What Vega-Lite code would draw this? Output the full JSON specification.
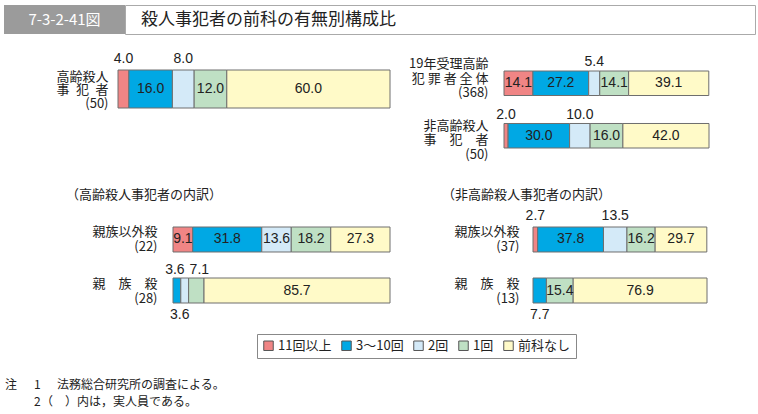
{
  "$schema": "https://vega.github.io/schema/vega-lite/v6.json",
  "padding": {"left": 0, "top": 4, "right": 0, "bottom": 0},
  "background": "white",
  "spacing": 0,
  "config": {
    "font": "Noto Sans CJK JP",
    "view": {"stroke": null},
    "axis": {"grid": false}
  },
  "datasets": {
    "d": [
      {"p": "A", "g": "高齢殺人|事\u2002犯\u2002者|(50)", "c": "11回以上", "k": 1, "v": 4.0},
      {"p": "A", "g": "高齢殺人|事\u2002犯\u2002者|(50)", "c": "3～10回", "k": 2, "v": 16.0},
      {"p": "A", "g": "高齢殺人|事\u2002犯\u2002者|(50)", "c": "2回", "k": 3, "v": 8.0},
      {"p": "A", "g": "高齢殺人|事\u2002犯\u2002者|(50)", "c": "1回", "k": 4, "v": 12.0},
      {"p": "A", "g": "高齢殺人|事\u2002犯\u2002者|(50)", "c": "前科なし", "k": 5, "v": 60.0},
      {"p": "B", "g": "19年受理高齢|犯 罪 者 全 体|(368)", "c": "11回以上", "k": 1, "v": 14.1},
      {"p": "B", "g": "19年受理高齢|犯 罪 者 全 体|(368)", "c": "3～10回", "k": 2, "v": 27.2},
      {"p": "B", "g": "19年受理高齢|犯 罪 者 全 体|(368)", "c": "2回", "k": 3, "v": 5.4},
      {"p": "B", "g": "19年受理高齢|犯 罪 者 全 体|(368)", "c": "1回", "k": 4, "v": 14.1},
      {"p": "B", "g": "19年受理高齢|犯 罪 者 全 体|(368)", "c": "前科なし", "k": 5, "v": 39.1},
      {"p": "B", "g": "非高齢殺人|事　犯　者|(50)", "c": "11回以上", "k": 1, "v": 2.0},
      {"p": "B", "g": "非高齢殺人|事　犯　者|(50)", "c": "3～10回", "k": 2, "v": 30.0},
      {"p": "B", "g": "非高齢殺人|事　犯　者|(50)", "c": "2回", "k": 3, "v": 10.0},
      {"p": "B", "g": "非高齢殺人|事　犯　者|(50)", "c": "1回", "k": 4, "v": 16.0},
      {"p": "B", "g": "非高齢殺人|事　犯　者|(50)", "c": "前科なし", "k": 5, "v": 42.0},
      {"p": "C", "g": "親族以外殺|(22)", "c": "11回以上", "k": 1, "v": 9.1},
      {"p": "C", "g": "親族以外殺|(22)", "c": "3～10回", "k": 2, "v": 31.8},
      {"p": "C", "g": "親族以外殺|(22)", "c": "2回", "k": 3, "v": 13.6},
      {"p": "C", "g": "親族以外殺|(22)", "c": "1回", "k": 4, "v": 18.2},
      {"p": "C", "g": "親族以外殺|(22)", "c": "前科なし", "k": 5, "v": 27.3},
      {"p": "C", "g": "親　族　殺|(28)", "c": "3～10回", "k": 2, "v": 3.6},
      {"p": "C", "g": "親　族　殺|(28)", "c": "2回", "k": 3, "v": 3.6},
      {"p": "C", "g": "親　族　殺|(28)", "c": "1回", "k": 4, "v": 7.1},
      {"p": "C", "g": "親　族　殺|(28)", "c": "前科なし", "k": 5, "v": 85.7},
      {"p": "D", "g": "親族以外殺|(37)", "c": "11回以上", "k": 1, "v": 2.7},
      {"p": "D", "g": "親族以外殺|(37)", "c": "3～10回", "k": 2, "v": 37.8},
      {"p": "D", "g": "親族以外殺|(37)", "c": "2回", "k": 3, "v": 13.5},
      {"p": "D", "g": "親族以外殺|(37)", "c": "1回", "k": 4, "v": 16.2},
      {"p": "D", "g": "親族以外殺|(37)", "c": "前科なし", "k": 5, "v": 29.7},
      {"p": "D", "g": "親　族　殺|(13)", "c": "3～10回", "k": 2, "v": 7.7},
      {"p": "D", "g": "親　族　殺|(13)", "c": "1回", "k": 4, "v": 15.4},
      {"p": "D", "g": "親　族　殺|(13)", "c": "前科なし", "k": 5, "v": 76.9}
    ],
    "notes": [
      {"line": 1, "col": 0, "s": "注"},
      {"line": 1, "col": 1, "s": "1"},
      {"line": 1, "col": 3, "s": "法務総合研究所の調査による。"},
      {"line": 2, "col": 1, "s": "2"},
      {"line": 2, "col": 2, "s": "（　）内は，実人員である。"}
    ]
  },
  "vconcat": [
    {
      "bounds": "flush",
      "spacing": 0,
      "hconcat": [
        {"width": 4, "height": 29, "data": {"values": [{}]}, "mark": "text", "encoding": {"text": {"value": ""}}},
        {"width": 121, "height": 29, "view": {"fill": "#9b9b9b", "stroke": null},
         "data": {"values": [{}]},
         "mark": {"type": "text", "color": "white", "fontSize": 15, "baseline": "middle", "font": "Noto Sans CJK JP"},
         "encoding": {"text": {"value": "7-3-2-41図"}}},
        {"width": 630, "height": 29, "view": {"fill": "white", "stroke": "#aaaaaa"},
         "data": {"values": [{}]},
         "mark": {"type": "text", "align": "left", "baseline": "middle", "dx": -299, "fontSize": 17, "color": "#222", "font": "Noto Sans CJK JP"},
         "encoding": {"text": {"value": "殺人事犯者の前科の有無別構成比"}}}
      ]
    },
    {
      "bounds": "flush",
      "spacing": 0,
      "hconcat": [
        {
          "width": 400, "height": 127,
          "data": {"name": "d"},
          "transform": [{"filter": "datum.p=='A'"}],
          "encoding": {"y": {"field": "g", "type": "nominal", "sort": null,
            "scale": {"range": [35, 73], "paddingInner": 0, "paddingOuter": 0},
            "axis": {"title": null, "domain": false, "ticks": false, "tickSize": 0, "labelPadding": 0, "offset": -108, "labelOffset": -12.5, "labelExpr": "split(datum.label,'|')", "labelFontSize": 13, "labelLineHeight": 13.5, "labelColor": "#222", "labelBaseline": "middle", "labelFont": "Noto Sans CJK JP"}}},
          "layer": [
            {"mark": {"type": "bar", "stroke": "#6e6e6e", "strokeWidth": 1},
             "encoding": {
               "x": {"field": "v", "type": "quantitative", "stack": "zero", "scale": {"domain": [0, 100], "range": [118, 390]}, "axis": null},
               "color": {"field": "c", "type": "nominal", "scale": {"domain": ["11回以上", "3～10回", "2回", "1回", "前科なし"], "range": ["#f08585", "#00a8e4", "#d4eaf8", "#bfe0c4", "#fffac8"]},
                 "legend": {"title": null, "orient": "none", "legendX": 257, "legendY": 329, "direction": "horizontal", "columns": 5, "symbolType": "square", "symbolSize": 90, "symbolStrokeColor": "#555", "symbolStrokeWidth": 1, "labelFontSize": 13, "labelFont": "Noto Sans CJK JP", "labelColor": "#222", "labelOffset": 3, "columnPadding": 7, "padding": 5, "strokeColor": "#888", "fillColor": "white"}},
               "order": {"field": "k", "type": "quantitative"}}},
            {"mark": {"type": "text", "font": "Liberation Sans", "fontSize": 14, "color": "#222", "baseline": "middle"},
             "encoding": {
               "x": {"field": "v", "type": "quantitative", "stack": "zero", "bandPosition": 0.5},
               "detail": {"field": "c"}, "order": {"field": "k", "type": "quantitative"},
               "text": {"condition": {"test": "!(datum.c=='11回以上' || datum.c=='2回')", "field": "v", "type": "quantitative", "format": ".1f"}, "value": ""}}},
            {"mark": {"type": "text", "font": "Liberation Sans", "fontSize": 14, "color": "#222", "baseline": "middle", "dy": -30},
             "encoding": {
               "x": {"field": "v", "type": "quantitative", "stack": "zero", "bandPosition": 0.5},
               "detail": {"field": "c"}, "order": {"field": "k", "type": "quantitative"},
               "text": {"condition": {"test": "datum.c=='11回以上' || datum.c=='2回'", "field": "v", "type": "quantitative", "format": ".1f"}, "value": ""}}}
          ]
        },
        {
          "width": 358, "height": 127,
          "data": {"name": "d"},
          "transform": [{"filter": "datum.p=='B'"}],
          "encoding": {"y": {"field": "g", "type": "nominal", "sort": null,
            "scale": {"range": [36, 113], "paddingInner": 0.533, "paddingOuter": 0},
            "axis": {"title": null, "domain": false, "ticks": false, "tickSize": 0, "labelPadding": 0, "offset": -88,
              "labelOffset": {"condition": {"test": "indexof(datum.value,'非')==0", "value": -10}, "value": -19},
              "labelExpr": "split(datum.label,'|')", "labelFontSize": 13, "labelLineHeight": 14.5, "labelColor": "#222", "labelBaseline": "middle", "labelFont": "Noto Sans CJK JP"}}},
          "layer": [
            {"mark": {"type": "bar", "stroke": "#6e6e6e", "strokeWidth": 1},
             "encoding": {
               "x": {"field": "v", "type": "quantitative", "stack": "zero", "scale": {"domain": [0, 100], "range": [104, 309]}, "axis": null},
               "color": {"field": "c", "type": "nominal", "scale": {"domain": ["11回以上", "3～10回", "2回", "1回", "前科なし"], "range": ["#f08585", "#00a8e4", "#d4eaf8", "#bfe0c4", "#fffac8"]},
                 "legend": {"title": null, "orient": "none", "legendX": 257, "legendY": 329, "direction": "horizontal", "columns": 5, "symbolType": "square", "symbolSize": 90, "symbolStrokeColor": "#555", "symbolStrokeWidth": 1, "labelFontSize": 13, "labelFont": "Noto Sans CJK JP", "labelColor": "#222", "labelOffset": 3, "columnPadding": 7, "padding": 5, "strokeColor": "#888", "fillColor": "white"}},
               "order": {"field": "k", "type": "quantitative"}}},
            {"mark": {"type": "text", "font": "Liberation Sans", "fontSize": 14, "color": "#222", "baseline": "middle"},
             "encoding": {
               "x": {"field": "v", "type": "quantitative", "stack": "zero", "bandPosition": 0.5},
               "detail": {"field": "c"}, "order": {"field": "k", "type": "quantitative"},
               "text": {"condition": {"test": "!(datum.c=='2回' || (datum.c=='11回以上' && indexof(datum.g,'非')==0))", "field": "v", "type": "quantitative", "format": ".1f"}, "value": ""}}},
            {"mark": {"type": "text", "font": "Liberation Sans", "fontSize": 14, "color": "#222", "baseline": "middle", "dy": -21},
             "encoding": {
               "x": {"field": "v", "type": "quantitative", "stack": "zero", "bandPosition": 0.5},
               "detail": {"field": "c"}, "order": {"field": "k", "type": "quantitative"},
               "text": {"condition": {"test": "datum.c=='2回' || (datum.c=='11回以上' && indexof(datum.g,'非')==0)", "field": "v", "type": "quantitative", "format": ".1f"}, "value": ""}}}
          ]
        }
      ]
    },
    {
      "bounds": "flush",
      "spacing": 0,
      "hconcat": [
        {
          "width": 400, "height": 162,
          "data": {"name": "d"},
          "transform": [{"filter": "datum.p=='C'"}],
          "encoding": {"y": {"field": "g", "type": "nominal", "sort": null,
            "scale": {"range": [65, 141], "paddingInner": 0.51, "paddingOuter": 0},
            "axis": {"title": null, "domain": false, "ticks": false, "tickSize": 0, "labelPadding": 0, "offset": -157, "labelOffset": -7, "labelExpr": "split(datum.label,'|')", "labelFontSize": 13, "labelLineHeight": 15, "labelColor": "#222", "labelBaseline": "middle", "labelFont": "Noto Sans CJK JP"}}},
          "layer": [
            {"data": {"values": [{"t": "（高齢殺人事犯者の内訳）"}]},
             "mark": {"type": "text", "align": "left", "baseline": "middle", "fontSize": 13, "color": "#222", "font": "Noto Sans CJK JP", "dx": -134, "dy": -48},
             "encoding": {"y": null, "text": {"field": "t"}}},
            {"mark": {"type": "bar", "stroke": "#6e6e6e", "strokeWidth": 1},
             "encoding": {
               "x": {"field": "v", "type": "quantitative", "stack": "zero", "scale": {"domain": [0, 100], "range": [173, 390]}, "axis": null},
               "color": {"field": "c", "type": "nominal", "scale": {"domain": ["11回以上", "3～10回", "2回", "1回", "前科なし"], "range": ["#f08585", "#00a8e4", "#d4eaf8", "#bfe0c4", "#fffac8"]},
                 "legend": {"title": null, "orient": "none", "legendX": 257, "legendY": 329, "direction": "horizontal", "columns": 5, "symbolType": "square", "symbolSize": 90, "symbolStrokeColor": "#555", "symbolStrokeWidth": 1, "labelFontSize": 13, "labelFont": "Noto Sans CJK JP", "labelColor": "#222", "labelOffset": 3, "columnPadding": 7, "padding": 5, "strokeColor": "#888", "fillColor": "white"}},
               "order": {"field": "k", "type": "quantitative"}}},
            {"mark": {"type": "text", "font": "Liberation Sans", "fontSize": 14, "color": "#222", "baseline": "middle"},
             "encoding": {
               "x": {"field": "v", "type": "quantitative", "stack": "zero", "bandPosition": 0.5},
               "detail": {"field": "c"}, "order": {"field": "k", "type": "quantitative"},
               "text": {"condition": {"test": "indexof(datum.g,'親　族')!=0 || datum.c=='前科なし'", "field": "v", "type": "quantitative", "format": ".1f"}, "value": ""}}},
            {"mark": {"type": "text", "font": "Liberation Sans", "fontSize": 14, "color": "#222", "baseline": "middle", "dy": -21, "dx": -2},
             "encoding": {
               "x": {"field": "v", "type": "quantitative", "stack": "zero", "bandPosition": 0.5},
               "detail": {"field": "c"}, "order": {"field": "k", "type": "quantitative"},
               "text": {"condition": {"test": "indexof(datum.g,'親　族')==0 && datum.c=='3～10回'", "field": "v", "type": "quantitative", "format": ".1f"}, "value": ""}}},
            {"mark": {"type": "text", "font": "Liberation Sans", "fontSize": 14, "color": "#222", "baseline": "middle", "dy": -21, "dx": 3},
             "encoding": {
               "x": {"field": "v", "type": "quantitative", "stack": "zero", "bandPosition": 0.5},
               "detail": {"field": "c"}, "order": {"field": "k", "type": "quantitative"},
               "text": {"condition": {"test": "indexof(datum.g,'親　族')==0 && datum.c=='1回'", "field": "v", "type": "quantitative", "format": ".1f"}, "value": ""}}},
            {"mark": {"type": "text", "font": "Liberation Sans", "fontSize": 14, "color": "#222", "baseline": "middle", "dy": 24, "dx": -5},
             "encoding": {
               "x": {"field": "v", "type": "quantitative", "stack": "zero", "bandPosition": 0.5},
               "detail": {"field": "c"}, "order": {"field": "k", "type": "quantitative"},
               "text": {"condition": {"test": "indexof(datum.g,'親　族')==0 && datum.c=='2回'", "field": "v", "type": "quantitative", "format": ".1f"}, "value": ""}}}
          ]
        },
        {
          "width": 358, "height": 162,
          "data": {"name": "d"},
          "transform": [{"filter": "datum.p=='D'"}],
          "encoding": {"y": {"field": "g", "type": "nominal", "sort": null,
            "scale": {"range": [65, 141], "paddingInner": 0.51, "paddingOuter": 0},
            "axis": {"title": null, "domain": false, "ticks": false, "tickSize": 0, "labelPadding": 0, "offset": -119, "labelOffset": -7, "labelExpr": "split(datum.label,'|')", "labelFontSize": 13, "labelLineHeight": 15, "labelColor": "#222", "labelBaseline": "middle", "labelFont": "Noto Sans CJK JP"}}},
          "layer": [
            {"data": {"values": [{"t": "（非高齢殺人事犯者の内訳）"}]},
             "mark": {"type": "text", "align": "left", "baseline": "middle", "fontSize": 13, "color": "#222", "font": "Noto Sans CJK JP", "dx": -137, "dy": -48},
             "encoding": {"y": null, "text": {"field": "t"}}},
            {"mark": {"type": "bar", "stroke": "#6e6e6e", "strokeWidth": 1},
             "encoding": {
               "x": {"field": "v", "type": "quantitative", "stack": "zero", "scale": {"domain": [0, 100], "range": [133, 307]}, "axis": null},
               "color": {"field": "c", "type": "nominal", "scale": {"domain": ["11回以上", "3～10回", "2回", "1回", "前科なし"], "range": ["#f08585", "#00a8e4", "#d4eaf8", "#bfe0c4", "#fffac8"]},
                 "legend": {"title": null, "orient": "none", "legendX": 257, "legendY": 329, "direction": "horizontal", "columns": 5, "symbolType": "square", "symbolSize": 90, "symbolStrokeColor": "#555", "symbolStrokeWidth": 1, "labelFontSize": 13, "labelFont": "Noto Sans CJK JP", "labelColor": "#222", "labelOffset": 3, "columnPadding": 7, "padding": 5, "strokeColor": "#888", "fillColor": "white"}},
               "order": {"field": "k", "type": "quantitative"}}},
            {"mark": {"type": "text", "font": "Liberation Sans", "fontSize": 14, "color": "#222", "baseline": "middle"},
             "encoding": {
               "x": {"field": "v", "type": "quantitative", "stack": "zero", "bandPosition": 0.5},
               "detail": {"field": "c"}, "order": {"field": "k", "type": "quantitative"},
               "text": {"condition": {"test": "!((indexof(datum.g,'親族以外')==0 && (datum.c=='11回以上' || datum.c=='2回')) || (indexof(datum.g,'親　族')==0 && datum.c=='3～10回'))", "field": "v", "type": "quantitative", "format": ".1f"}, "value": ""}}},
            {"mark": {"type": "text", "font": "Liberation Sans", "fontSize": 14, "color": "#222", "baseline": "middle", "dy": -23},
             "encoding": {
               "x": {"field": "v", "type": "quantitative", "stack": "zero", "bandPosition": 0.5},
               "detail": {"field": "c"}, "order": {"field": "k", "type": "quantitative"},
               "text": {"condition": {"test": "indexof(datum.g,'親族以外')==0 && (datum.c=='11回以上' || datum.c=='2回')", "field": "v", "type": "quantitative", "format": ".1f"}, "value": ""}}},
            {"mark": {"type": "text", "font": "Liberation Sans", "fontSize": 14, "color": "#222", "baseline": "middle", "dy": 24},
             "encoding": {
               "x": {"field": "v", "type": "quantitative", "stack": "zero", "bandPosition": 0.5},
               "detail": {"field": "c"}, "order": {"field": "k", "type": "quantitative"},
               "text": {"condition": {"test": "indexof(datum.g,'親　族')==0 && datum.c=='3～10回'", "field": "v", "type": "quantitative", "format": ".1f"}, "value": ""}}}
          ]
        }
      ]
    },
    {
      "width": 758, "height": 88,
      "data": {"name": "notes"},
      "mark": {"type": "text", "align": "left", "baseline": "middle", "fontSize": 12, "color": "#222", "font": "Noto Sans CJK JP"},
      "encoding": {
        "x": {"field": "col", "type": "quantitative", "scale": {"domain": [0, 1, 2, 3], "range": [5, 34, 41, 57]}, "axis": null},
        "y": {"field": "line", "type": "quantitative", "scale": {"domain": [1, 2], "range": [61, 78]}, "axis": null},
        "text": {"field": "s"}
      }
    }
  ]
}
